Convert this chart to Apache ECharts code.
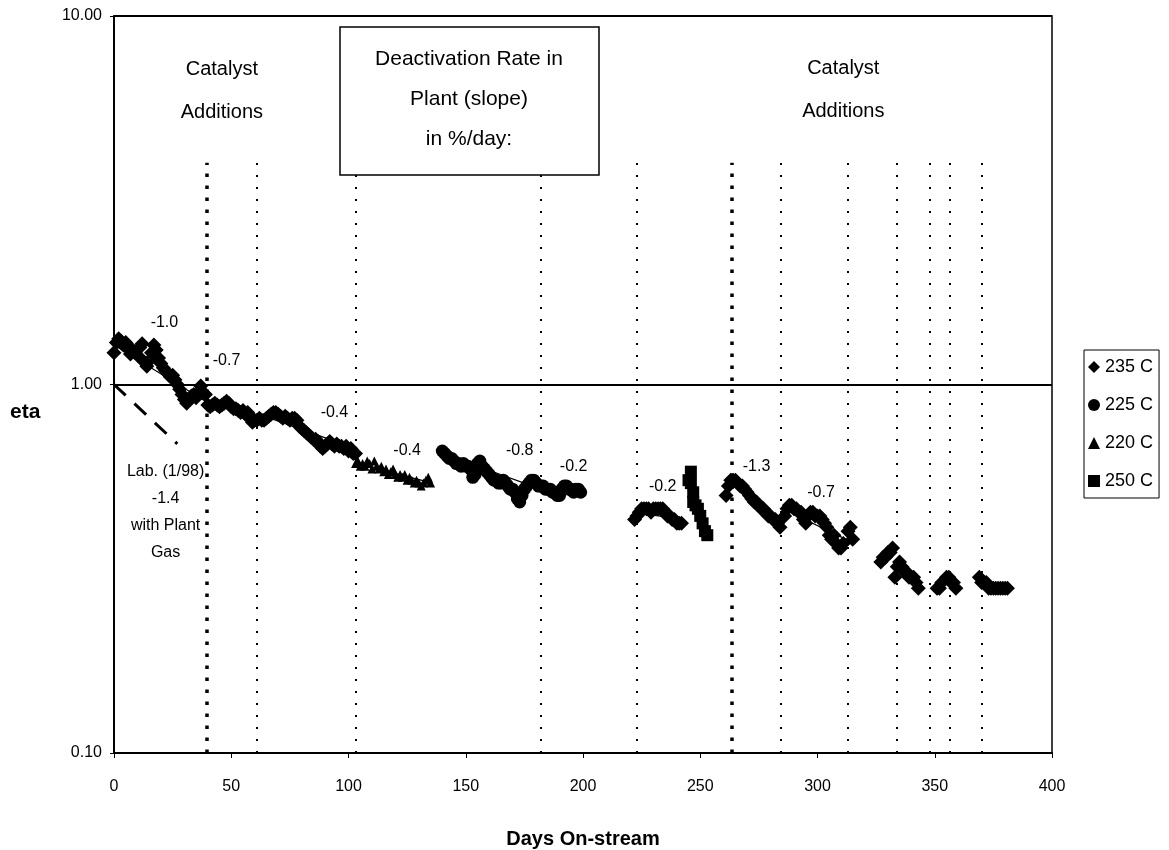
<!DOCTYPE html>
<html>
<head>
<meta charset="utf-8">
<script src="https://cdn.jsdelivr.net/npm/echarts@6/dist/echarts.min.js"></script>
<style>html,body{margin:0;padding:0;background:#fff}#c{width:1169px;height:850px}</style>
</head>
<body>
<div id="c"></div>
<script>
// ---- data ----
const xTicks = [0, 50, 100, 150, 200, 250, 300, 350, 400];
const yTicks = [0.1, 1, 10];

const s235 = [
  [0,1.22],[1,1.30],[2,1.33],[3,1.31],[4,1.28],[5,1.30],[6,1.25],[7,1.21],[8,1.24],[9,1.22],[10,1.20],[11,1.26],[12,1.29],[13,1.15],[14,1.12],[15,1.16],[16,1.22],[17,1.28],[18,1.24],[19,1.18],[20,1.14],[21,1.11],[22,1.09],[23,1.07],[24,1.05],[25,1.06],[26,1.03],[27,1.00],[28,0.97],[29,0.94],[30,0.91],[31,0.89],[32,0.91],[33,0.93],[34,0.94],[35,0.92],[36,0.95],[37,0.99],[38,0.95],[39,0.94],
  [40,0.88],[41,0.87],[42,0.88],[43,0.89],[44,0.88],[45,0.87],[46,0.88],[47,0.89],[48,0.90],[49,0.89],[50,0.87],[51,0.86],[52,0.86],[53,0.85],[54,0.84],[55,0.85],[56,0.83],[57,0.84],[58,0.81],[59,0.79],[60,0.80],[61,0.80],
  [62,0.81],[63,0.80],[64,0.80],[65,0.81],[66,0.82],[67,0.83],[68,0.84],[69,0.84],[70,0.83],[71,0.82],[72,0.81],[73,0.82],[74,0.81],[75,0.80],[76,0.81],[77,0.81],[78,0.80],[79,0.77],[80,0.76],[81,0.75],[82,0.74],[83,0.73],[84,0.72],[85,0.71],[86,0.71],[87,0.70],[88,0.68],[89,0.67],[90,0.68],[91,0.69],[92,0.70],[93,0.69],[94,0.68],[95,0.69],[96,0.68],[97,0.68],[98,0.67],[99,0.68],[100,0.66],[101,0.67],[102,0.65],[103,0.65],
  [222,0.43],[223,0.44],[224,0.45],[225,0.46],[226,0.46],[227,0.46],[228,0.46],[229,0.45],[230,0.46],[231,0.46],[232,0.46],[233,0.46],[234,0.46],[235,0.45],[236,0.44],[237,0.44],[238,0.43],[239,0.43],[240,0.42],[241,0.42],[242,0.42],
  [261,0.50],[262,0.53],[263,0.55],[264,0.55],[265,0.55],[266,0.54],[267,0.53],[268,0.53],[269,0.52],[270,0.51],[271,0.50],[272,0.49],[273,0.48],[274,0.48],[275,0.47],[276,0.46],[277,0.46],[278,0.45],[279,0.44],[280,0.44],[281,0.43],[282,0.43],[283,0.42],[284,0.41],
  [286,0.44],[287,0.46],[288,0.47],[289,0.47],[290,0.46],[291,0.46],[292,0.45],[293,0.45],[294,0.43],[295,0.42],[296,0.44],[297,0.45],[298,0.45],[299,0.44],[300,0.44],[301,0.44],[302,0.43],[303,0.42],[304,0.41],[305,0.39],[306,0.38],[307,0.39],[308,0.37],[309,0.36],[310,0.36],[311,0.37],[313,0.40],[314,0.41],[315,0.38],
  [327,0.33],[328,0.34],[329,0.34],[330,0.35],[331,0.35],[332,0.36],[333,0.30],[334,0.32],[335,0.33],[336,0.32],[337,0.31],[338,0.31],[339,0.30],[340,0.30],[341,0.30],[342,0.29],[343,0.28],
  [351,0.28],[352,0.28],[353,0.29],[355,0.30],[356,0.30],[357,0.29],[358,0.29],[359,0.28],
  [369,0.30],[370,0.29],[371,0.29],[372,0.29],[373,0.28],[374,0.28],[375,0.28],[376,0.28],[377,0.28],[378,0.28],[379,0.28],[380,0.28],[381,0.28]
];
const s225 = [
  [140,0.66],[141,0.65],[142,0.64],[143,0.63],[144,0.63],[145,0.62],[146,0.61],[147,0.61],[148,0.60],[149,0.61],[150,0.60],[151,0.60],[152,0.59],[153,0.56],[154,0.57],[155,0.61],[156,0.62],[157,0.60],[158,0.59],[159,0.58],[160,0.57],[161,0.56],[162,0.55],[163,0.55],[164,0.54],[165,0.54],[166,0.55],[167,0.54],[168,0.53],[169,0.52],[170,0.52],[171,0.51],[172,0.49],[173,0.48],[174,0.50],[175,0.52],[176,0.53],[177,0.54],[178,0.55],[179,0.55],[180,0.54],[181,0.53],[182,0.53],[183,0.53],[184,0.52],[185,0.52],[186,0.52],[187,0.51],[188,0.51],[189,0.50],[190,0.50],[191,0.52],[192,0.53],[193,0.53],[194,0.52],[195,0.52],[196,0.51],[197,0.52],[198,0.52],[199,0.51]
];
const s220 = [
  [103,0.61],[104,0.62],[105,0.60],[106,0.61],[107,0.60],[108,0.62],[109,0.61],[110,0.59],[111,0.62],[112,0.60],[113,0.59],[114,0.60],[115,0.58],[116,0.59],[117,0.57],[118,0.58],[119,0.59],[120,0.57],[121,0.56],[122,0.57],[123,0.56],[124,0.57],[125,0.55],[126,0.56],[127,0.55],[128,0.54],[129,0.55],[130,0.54],[131,0.53],[132,0.54],[133,0.55],[134,0.56],[135,0.54]
];
const s250 = [
  [245,0.55],[246,0.58],[246,0.54],[247,0.51],[247,0.48],[248,0.47],[249,0.46],[250,0.44],[251,0.42],[252,0.40],[253,0.39]
];
// slope (regression) lines per period, as [startDay, startEta, endDay, endEta]
const trendLines = [
  [0,1.28,39,0.90],[40,0.90,61,0.80],[62,0.83,103,0.67],[103,0.61,136,0.54],
  [140,0.65,182,0.52],[182,0.53,200,0.52],[222,0.45,243,0.43],[262,0.55,285,0.42],[285,0.46,316,0.37]
];
const labLine = [[0,1.0],[27,0.69]];
// catalyst addition days (heavy = thick dotted)
const additionDays = [39.5, 61, 103, 182, 223, 263.5, 284.5, 313, 334, 348, 356.5, 370];
const heavyAdditions = [39.5, 263.5];
const additionTop = 4.0;
// slope annotations: [day, eta, text]
const slopeLabels = [
  [21.5,1.47,'-1.0'],[48,1.16,'-0.7'],[94,0.84,'-0.4'],[125,0.66,'-0.4'],[173,0.66,'-0.8'],
  [196,0.60,'-0.2'],[234,0.53,'-0.2'],[274,0.60,'-1.3'],[301.5,0.51,'-0.7'],
  [22,0.45,'Lab. (1/98)\n-1.4\nwith Plant\nGas']
];
const noteLabels = [[46,6.25,'Catalyst\nAdditions'],[311,6.3,'Catalyst\nAdditions']];
const boxLines = ['Deactivation Rate in', 'Plant (slope)', 'in %/day:'];

// ---- chart ----
const FONT = 'Liberation Sans, Arial, sans-serif';
const chart = echarts.init(document.getElementById('c'));

const trendData = [];
trendLines.forEach(t => { trendData.push([t[0], t[1]], [t[2], t[3]], [null, null]); });

const markLines = additionDays.map(d => {
  const heavy = heavyAdditions.includes(d);
  return [
    {coord: [d, 0.1], lineStyle: {width: heavy ? 3.5 : 2, type: heavy ? [3.5, 8.5] : [2, 10], color: '#000', opacity: 1}},
    {coord: [d, additionTop]}
  ];
});

const scatterBase = {type: 'scatter', itemStyle: {color: '#000', opacity: 1}, z: 5};

chart.setOption({
  animation: false,
  backgroundColor: '#fff',
  textStyle: {fontFamily: FONT, color: '#000'},
  grid: {left: 114, right: 117, top: 16, bottom: 97, show: true, borderColor: '#000', borderWidth: 1.5,
    outerBoundsMode: 'none', containLabel: false},
  legend: {
    orient: 'vertical', left: 1084, top: 350,
    data: ['235 C', '225 C', '220 C', '250 C'],
    borderColor: '#000', borderWidth: 1, padding: [8, 6, 8, 4],
    itemWidth: 12, itemHeight: 12, itemGap: 20,
    textStyle: {fontSize: 18, color: '#000', fontFamily: FONT}
  },
  xAxis: {
    type: 'value', min: 0, max: 400, interval: 50,
    name: 'Days On-stream', nameLocation: 'middle', nameGap: 76,
    nameTextStyle: {fontSize: 20, fontWeight: 'bold', color: '#000', fontFamily: FONT},
    axisLine: {lineStyle: {color: '#000', width: 2}},
    axisTick: {show: true, length: 5, lineStyle: {color: '#000'}},
    axisLabel: {fontSize: 16, color: '#000', margin: 26, fontFamily: FONT,
      customValues: xTicks},
    splitLine: {show: false}
  },
  yAxis: {
    type: 'log', logBase: 10, min: 0.1, max: 10,
    axisLine: {show: true, lineStyle: {color: '#000', width: 2}},
    axisTick: {show: true, length: 4, lineStyle: {color: '#000'}},
    axisLabel: {fontSize: 16, color: '#000', margin: 12, fontFamily: FONT,
      formatter: v => Number(v).toFixed(2)},
    splitLine: {show: true, lineStyle: {color: '#000', width: 2}},
    minorTick: {show: false}
  },
  graphic: [
    {type: 'text', left: 10, top: 402, style: {text: 'eta', font: 'bold 21px ' + FONT, fill: '#000'}},
    {type: 'rect', shape: {x: 340, y: 27, width: 259, height: 148}, style: {fill: '#fff', stroke: '#000', lineWidth: 1.5}, z: 10},
    {type: 'text', z: 11, x: 469, y: 99, style: {text: boxLines.join('\n'), font: '21px ' + FONT, fill: '#000', align: 'center', verticalAlign: 'middle', lineHeight: 40}}
  ],
  series: [
    Object.assign({}, scatterBase, {name: '235 C', symbol: 'diamond', symbolSize: 15, data: s235,
      markLine: {silent: true, symbol: ['none', 'none'], label: {show: false}, data: markLines, z: 1}}),
    Object.assign({}, scatterBase, {name: '225 C', symbol: 'circle', symbolSize: 13, data: s225}),
    Object.assign({}, scatterBase, {name: '220 C', symbol: 'triangle', symbolSize: 9, data: s220}),
    Object.assign({}, scatterBase, {name: '250 C', symbol: 'rect', symbolSize: 12, data: s250}),
    {type: 'line', name: 'trend', data: trendData, showSymbol: false, connectNulls: false,
      lineStyle: {color: '#000', width: 1.2}, z: 6, silent: true},
    {type: 'line', name: 'lab', data: labLine, showSymbol: false,
      lineStyle: {color: '#000', width: 3, type: [16, 12]}, z: 6, silent: true},
    {type: 'scatter', name: 'slopes', silent: true, z: 8, symbolSize: 1, itemStyle: {color: 'transparent', opacity: 1},
      data: slopeLabels.map(a => ({value: [a[0], a[1]], name: a[2]})),
      label: {show: true, position: 'inside', formatter: p => p.name, fontSize: 16, lineHeight: 27, color: '#000', opacity: 1, fontFamily: FONT}},
    {type: 'scatter', name: 'notes', silent: true, z: 8, symbolSize: 1, itemStyle: {color: 'transparent', opacity: 1},
      data: noteLabels.map(a => ({value: [a[0], a[1]], name: a[2]})),
      label: {show: true, position: 'inside', formatter: p => p.name, fontSize: 20, lineHeight: 43, color: '#000', opacity: 1, fontFamily: FONT}}
  ]
});
</script>
</body>
</html>
